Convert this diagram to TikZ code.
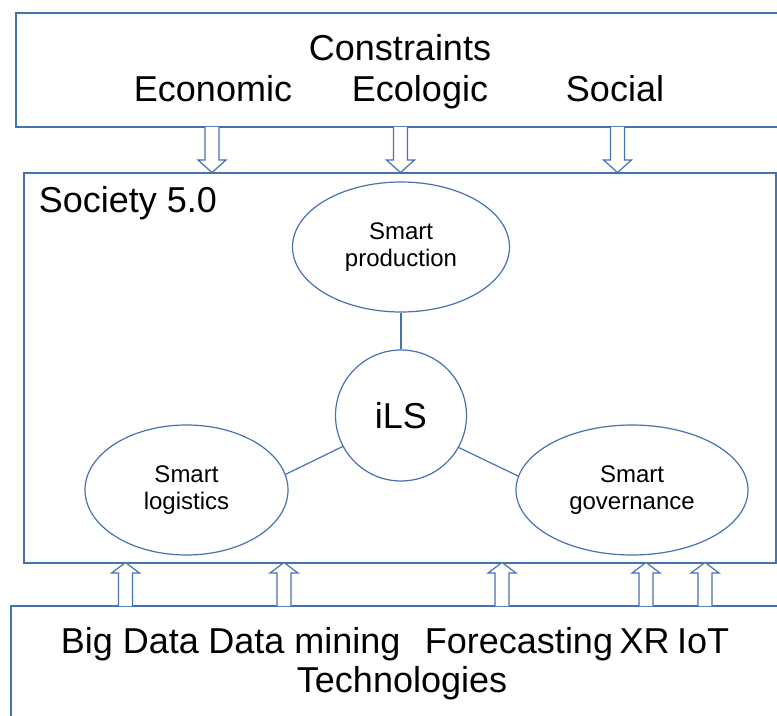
\documentclass[tikz,border=0pt]{standalone}
\usepackage{fontspec}
\setmainfont{Liberation Sans}
\usetikzlibrary{shapes.geometric}
\definecolor{lineblue}{RGB}{71,114,176}
\tikzset{
  box/.style={draw=lineblue, line width=0.9pt},
  bigtxt/.style={font=\fontsize{27}{30}\selectfont, anchor=base, inner sep=0pt},
  oval/.style={draw=lineblue, line width=0.9pt, ellipse, inner sep=0pt, align=center,
    font=\fontsize{18}{20}\selectfont, minimum height=97.5pt},
  link/.style={draw=lineblue, line width=0.9pt},
  blockarrow/.style={draw=lineblue, line width=0.9pt, fill=white, line join=miter}
}
\begin{document}
\begin{tikzpicture}[x=0.75pt, y=-0.75pt]
\clip (0,0) rectangle (777,716);
\fill[white] (0,0) rectangle (777,716);
% boxes
\draw[box] (16,13) rectangle (800,127);
\draw[box] (24,173) rectangle (776,563);
\draw[box] (11,606) rectangle (800,800);
% top texts
\node[bigtxt] (constraints) at (400,61) {Constraints};
\node[bigtxt] (economic) at (213,102) {Economic};
\node[bigtxt] (ecologic) at (420,102) {Ecologic};
\node[bigtxt] (social) at (615,102) {Social};
% society label
\node[bigtxt] (society) at (128,213) {Society 5.0};
% down arrows
\foreach \cx in {212,400.5,617.5}{
  \draw[blockarrow] (\cx-7,127) -- (\cx-7,160) -- (\cx-14,160) -- (\cx,172.5)
    -- (\cx+14,160) -- (\cx+7,160) -- (\cx+7,127);
}
% up arrows
\foreach \cx in {125.5,284,502,646,705}{
  \draw[blockarrow] (\cx-7,606) -- (\cx-7,573) -- (\cx-14,573) -- (\cx,562.5)
    -- (\cx+14,573) -- (\cx+7,573) -- (\cx+7,606);
}
% nodes
\node[oval, minimum width=162.75pt] (prod) at (401,247) {Smart\\production};
\node[draw=lineblue, line width=0.9pt, circle, inner sep=0pt, minimum size=98.25pt,
  font=\fontsize{27}{30}\selectfont] (ils) at (401,415.5) {iLS};
\node[oval, minimum width=152.25pt] (log) at (186.5,490) {Smart\\logistics};
\node[oval, minimum width=174pt] (gov) at (632,490) {Smart\\governance};
% connectors
\draw[link] (prod.south) -- (ils.north);
\draw[link] (ils.208) -- (log.9);
\draw[link] (ils.331) -- (gov.173);
% bottom texts
\node[bigtxt] (bigdata) at (130,653) {Big Data};
\node[bigtxt] (datamining) at (304.5,653) {Data mining};
\node[bigtxt] (forecasting) at (519,653) {Forecasting};
\node[bigtxt] (xr) at (644.5,653) {XR};
\node[bigtxt] (iot) at (703,653) {IoT};
\node[bigtxt] (tech) at (402,692) {Technologies};
\end{tikzpicture}
\end{document}
